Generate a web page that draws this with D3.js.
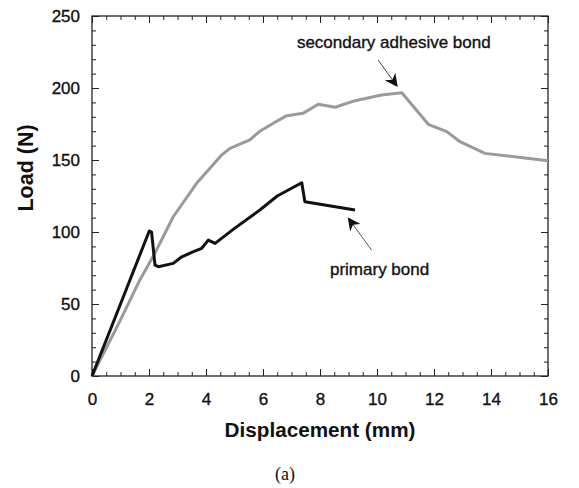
<!DOCTYPE html>
<html>
<head>
<meta charset="utf-8">
<script src="https://cdn.jsdelivr.net/npm/d3@7"></script>
<style>
  body { margin: 0; background: #fff; }
  text { font-family: "Liberation Sans", Arial, sans-serif; }
</style>
</head>
<body>
<div id="chart"></div>
<script>
// secondary adhesive bond (grey)
const secondaryX = [0, 1, 1.68, 2.2, 2.85, 3.67, 4.55, 4.84, 5.54, 5.89, 6.36, 6.8, 7.4, 7.94, 8.53, 9.23, 10.16, 10.87, 11.8, 12.45, 12.91, 13.79, 16];
const secondaryY = [0, 39, 66.7, 85, 110.6, 133.8, 153.5, 158.1, 163.9, 170, 175.5, 180.5, 182.4, 188.7, 186.6, 191.2, 195.1, 196.7, 174.8, 169.7, 162.7, 154.6, 149.5];
// primary bond (black)
const primaryX = [0, 1, 2.01, 2.09, 2.21, 2.33, 2.85, 3.15, 3.56, 3.85, 4.08, 4.32, 5.0, 5.89, 6.5, 7.36, 7.47, 9.23];
const primaryY = [0, 50, 100.7, 100, 77, 75.9, 78.2, 82.8, 86.3, 88.7, 94.4, 92.1, 102.5, 115.3, 125, 134.2, 121, 115.3];
const xTicks = [0, 2, 4, 6, 8, 10, 12, 14, 16];
const yTicks = [0, 50, 100, 150, 200, 250];

const width = 579, height = 488;
const margin = { left: 92, right: 31, top: 16, bottom: 112 };

const svg = d3.select("#chart").append("svg")
  .attr("width", width).attr("height", height);

const x = d3.scaleLinear().domain([0, 16]).range([margin.left, width - margin.right]);
const y = d3.scaleLinear().domain([0, 250]).range([height - margin.bottom, margin.top]);

const tickColor = "#222";
// minor + major ticks, inward, on all four sides
function drawTicks(axisGen, translate, minorVals, majorVals, showLabels) {
  svg.append("g").attr("transform", translate)
    .call(axisGen.tickValues(minorVals).tickSize(4).tickFormat(""))
    .call(g => g.select(".domain").remove())
    .call(g => g.selectAll("line").attr("stroke", tickColor));
  const g = svg.append("g").attr("transform", translate)
    .call(axisGen.tickValues(majorVals).tickSize(7).tickFormat(showLabels ? d3.format("d") : ""))
    .call(g => g.select(".domain").remove())
    .call(g => g.selectAll("line").attr("stroke", tickColor));
  return g;
}
const xMinor = d3.range(0, 16.01, 0.5);
const yMinor = d3.range(0, 250.1, 10);

const labelStyle = sel => sel
  .attr("font-size", 17).attr("fill", "#111")
  .attr("stroke", "#111").attr("stroke-width", 0.35);

const bx = drawTicks(d3.axisTop(x), `translate(0,${y(0)})`, xMinor, xTicks, true);
bx.selectAll("text").attr("y", 17).attr("dy", "0.71em").call(labelStyle);
drawTicks(d3.axisBottom(x), `translate(0,${y(250)})`, xMinor, xTicks, false);
const ly = drawTicks(d3.axisRight(y), `translate(${x(0)},0)`, yMinor, yTicks, true);
ly.selectAll("text").attr("x", -12).attr("text-anchor", "end").call(labelStyle);
drawTicks(d3.axisLeft(y), `translate(${x(16)},0)`, yMinor, yTicks, false);

svg.append("rect")
  .attr("x", x(0)).attr("y", y(250))
  .attr("width", x(16) - x(0)).attr("height", y(0) - y(250))
  .attr("fill", "none").attr("stroke", "#222").attr("stroke-width", 1.3);

const line = d3.line().x(d => x(d[0])).y(d => y(d[1]));

svg.append("path")
  .datum(d3.zip(secondaryX, secondaryY))
  .attr("d", line).attr("fill", "none")
  .attr("stroke", "#9a9a9a").attr("stroke-width", 3).attr("stroke-linejoin", "round");

svg.append("path")
  .datum(d3.zip(primaryX, primaryY))
  .attr("d", line).attr("fill", "none")
  .attr("stroke", "#111").attr("stroke-width", 3).attr("stroke-linejoin", "round");

// arrows
svg.append("defs").append("marker")
  .attr("id", "head").attr("viewBox", "0 0 10 10")
  .attr("refX", 9).attr("refY", 5)
  .attr("markerWidth", 13).attr("markerHeight", 13)
  .attr("markerUnits", "userSpaceOnUse")
  .attr("orient", "auto")
  .append("path").attr("d", "M0,0 L10,5 L0,10 L3,5 Z").attr("fill", "#111");

svg.append("line")
  .attr("x1", x(10.04)).attr("y1", y(219.4))
  .attr("x2", x(10.7)).attr("y2", y(201.4))
  .attr("stroke", "#444").attr("stroke-width", 1)
  .attr("marker-end", "url(#head)");

svg.append("line")
  .attr("x1", x(9.81)).attr("y1", y(87.4))
  .attr("x2", x(9.0)).attr("y2", y(109.5))
  .attr("stroke", "#555").attr("stroke-width", 1)
  .attr("marker-end", "url(#head)");

svg.append("text")
  .attr("x", x(7.19)).attr("y", y(227.8))
  .call(labelStyle)
  .text("secondary adhesive bond");

svg.append("text")
  .attr("x", x(8.35)).attr("y", y(70.1))
  .call(labelStyle)
  .text("primary bond");

// axis titles
svg.append("text")
  .attr("x", (x(0) + x(16)) / 2).attr("y", 437)
  .attr("text-anchor", "middle").attr("font-size", 20.7).attr("font-weight", "bold").attr("fill", "#111")
  .text("Displacement (mm)");

svg.append("text")
  .attr("transform", `translate(33,168) rotate(-90)`)
  .attr("text-anchor", "middle").attr("font-size", 21.5).attr("font-weight", "bold").attr("fill", "#111")
  .text("Load (N)");

svg.append("text")
  .attr("x", 285).attr("y", 480)
  .attr("text-anchor", "middle").attr("font-size", 18)
  .style("font-family", "'Liberation Serif', 'Times New Roman', serif").attr("fill", "#111")
  .text("(a)");
</script>
</body>
</html>
